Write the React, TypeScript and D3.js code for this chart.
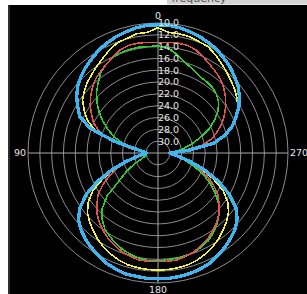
import React from 'react';
import * as d3 from 'd3';

// polar pattern, angle in degrees counter-clockwise from top
const angles = d3.range(0, 360, 5);

const radialTicks = [10, 12, 14, 16, 18, 20, 22, 24, 26, 28, 30];
const angleTicks = [0, 90, 180, 270];

const seriesBlue = [
  10.3, 10.3, 10.5, 10.8, 11.1, 11.5, 11.9, 12.5, 13.0, 13.6, 14.3, 15.2, 16.3, 17.4, 19.8, 24.4, 28.3, 29.5, 30.0,
  29.5, 28.3, 26.4, 23.7, 20.8, 18.0, 15.9, 14.4, 13.6, 12.9, 12.4, 11.9, 11.4, 11.1, 10.8, 10.8, 10.7,
  10.7,
  10.7, 10.8, 10.9, 11.1, 11.4, 11.9, 12.4, 13.0, 13.6, 14.5, 15.9, 18.1, 20.8, 23.6, 26.4, 28.3, 29.5, 30.0,
  26.8, 22.4, 20.2, 18.6, 17.4, 16.2, 15.2, 14.3, 13.7, 13.0, 12.5, 11.9, 11.5, 11.1, 10.8, 10.5, 10.3,
];

const seriesYellow = [
  10.8, 11.5, 11.5, 11.9, 12.1, 12.7, 13.4, 14.0, 14.6, 15.1, 15.7, 16.4, 17.6, 18.8, 20.6, 24.4, 28.3, 29.5, 30.0,
  29.6, 28.4, 26.8, 24.2, 21.7, 19.3, 17.6, 16.4, 15.6, 14.9, 14.2, 13.6, 13.1, 12.7, 12.4, 12.3, 12.2,
  12.2,
  12.2, 12.3, 12.4, 12.7, 13.1, 13.6, 14.2, 14.9, 15.6, 16.4, 17.6, 19.3, 21.7, 24.2, 26.8, 28.4, 29.6, 30.0,
  27.9, 22.4, 20.3, 18.8, 17.5, 16.4, 15.7, 15.1, 14.6, 14.0, 13.4, 12.7, 12.1, 11.9, 11.6, 11.5,
  11.5,
];

const seriesRed = [
  13.3, 13.2, 13.1, 13.1, 13.4, 14.0, 14.6, 15.1, 15.6, 16.3, 17.1, 18.0, 19.0, 20.0, 21.5, 23.9, 26.9, 29.1, 30.0,
  29.5, 28.4, 26.9, 24.9, 22.9, 21.2, 19.6, 18.5, 17.4, 16.6, 15.9, 15.2, 14.7, 14.2, 13.9, 13.6, 13.6,
  13.6,
  13.6, 13.6, 13.9, 14.2, 14.7, 15.2, 15.9, 16.6, 17.4, 18.5, 19.6, 21.2, 22.9, 24.9, 26.9, 28.4, 29.5, 30.0,
  27.9, 24.4, 22.5, 21.3, 20.0, 19.0, 18.0, 17.1, 16.3, 15.6, 15.1, 14.6, 14.0, 13.4, 13.1, 13.1, 13.2,
];

const seriesGreen = [
  13.9, 13.9, 13.8, 13.8, 13.9, 14.1, 14.6, 15.2, 16.3, 17.3, 18.5, 19.8, 21.2, 22.7, 24.2, 25.9, 27.4, 29.0, 30.0,
  30.0, 30.0, 29.6, 29.0, 27.6, 25.9, 24.2, 20.8, 18.6, 17.3, 16.3, 15.7, 15.1, 14.6, 14.2, 13.9, 13.7,
  13.7,
  13.9, 13.9, 14.0, 14.1, 14.5, 14.9, 15.6, 16.4, 17.4, 18.6, 20.2, 21.8, 23.7, 25.6, 27.3, 28.6, 29.5, 30.0,
  29.0, 27.6, 26.1, 24.4, 22.5, 21.0, 19.6, 18.6, 18.0, 17.6, 17.4, 17.3, 16.9, 16.4, 15.8, 14.9, 14.1,
];

const seriesList = [seriesGreen, seriesRed, seriesYellow, seriesBlue];
const seriesColors = ['#2fcc2f', '#e0524f', '#f2f244', '#3eb5ee'];
const seriesWidths = [1.6, 1.6, 1.6, 3.4];

export default function App() {
  const W = 307;
  const H = 294;
  const cx = 158;
  const cy = 153;
  const R = 130;

  const r = d3.scaleLinear().domain([32, 10]).range([0, R]);

  const line = d3
    .lineRadial<number>()
    .angle((d, i) => (-angles[i] * Math.PI) / 180)
    .radius((d) => r(d))
    .curve(d3.curveLinearClosed);

  const labelFont = 'DejaVu Sans, sans-serif';

  return (
    <svg
      width={W}
      height={H}
      style={{ position: 'absolute', left: 0, top: 0 }}
    >
      <rect x={0} y={0} width={W} height={H} fill="#ffffff" />
      <rect x={8} y={5} width={W - 8} height={H - 5} fill="#000000" />
      <rect x={8} y={5} width={2} height={H - 5} fill="#2e2e2e" />
      {/* title box, cut off at the top */}
      <rect x={167} y={0} width={W - 167} height={4.5} fill="#d3d3d3" />
      <text x={199} y={1.5} fontSize={11} fontFamily={labelFont} fill="#555" textAnchor="middle">
        frequency
      </text>

      <g transform={`translate(${cx},${cy})`}>
        {radialTicks.map((t) => (
          <circle key={t} r={r(t)} fill="none" stroke="#9c9c9c" strokeWidth={0.9} />
        ))}
        <line x1={0} y1={-R} x2={0} y2={R} stroke="#a8a8a8" strokeWidth={1} />
        <line x1={-R} y1={0} x2={R} y2={0} stroke="#a8a8a8" strokeWidth={1} />

        {seriesList.map((s, k) => (
          <path
            key={k}
            d={line(s) || ''}
            fill="none"
            stroke={seriesColors[k]}
            strokeWidth={seriesWidths[k]}
            strokeLinejoin="round"
            shapeRendering="crispEdges"
          />
        ))}

        {radialTicks.map((t) => (
          <text
            key={t}
            x={0}
            y={-r(t)}
            dy="0.35em"
            fontSize={9.5}
            fontFamily={labelFont}
            fill="#e6e6e6"
          >
            {t.toFixed(1)}
          </text>
        ))}

        {angleTicks.map((a) => {
          let anchor = 'middle';
          let px = 0;
          let py = 0;
          if (a === 90) {
            anchor = 'end';
            px = -(R + 2);
          } else if (a === 270) {
            anchor = 'start';
            px = R + 2;
          } else {
            py = a === 0 ? -(R + 7) : R + 7;
          }
          return (
            <text
              key={a}
              x={px}
              y={py}
              dy="0.35em"
              textAnchor={anchor}
              fontSize={9.5}
              fontFamily={labelFont}
              fill="#e6e6e6"
            >
              {a}
            </text>
          );
        })}
      </g>
    </svg>
  );
}
